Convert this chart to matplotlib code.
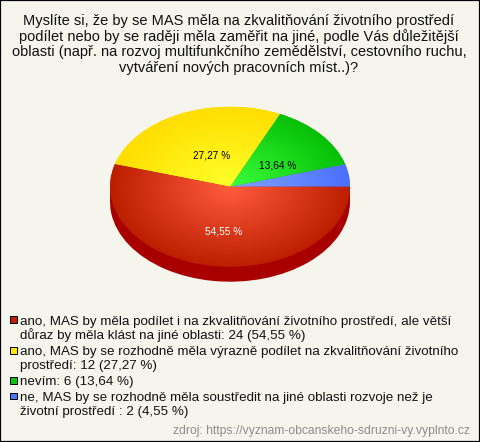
import matplotlib
matplotlib.use('Agg')
import matplotlib.pyplot as plt
import numpy as np
from matplotlib.colors import LinearSegmentedColormap
from matplotlib.patches import Rectangle

W, H = 480, 442

title_lines = [
    'Myslíte si, že by se MAS měla na zkvalitňování životního prostředí',
    'podílet nebo by se raději měla zaměřit na jiné, podle Vás důležitější',
    'oblasti (např. na rozvoj multifunkčního zemědělství, cestovního ruchu,',
    'vytváření nových pracovních míst..)?',
]
counts = [2, 6, 12, 24]
pct_labels = ['4,55 %', '13,64 %', '27,27 %', '54,55 %']
legend_lines = [
    ['ano, MAS by měla podílet i na zkvalitňování životního prostředí, ale větší',
     'důraz by měla klást na jiné oblasti: 24 (54,55 %)'],
    ['ano, MAS by se rozhodně měla výrazně podílet na zkvalitňování životního',
     'prostředí: 12 (27,27 %)'],
    ['nevím: 6 (13,64 %)'],
    ['ne, MAS by se rozhodně měla soustředit na jiné oblasti rozvoje než je',
     'životní prostředí : 2 (4,55 %)'],
]
legend_colors = ['#C42000', '#FFE800', '#0CC40C', '#4D74FF']
source = 'zdroj: https://vyznam-obcanskeho-sdruzni-vy.vyplnto.cz'

# (stred, okraj) pro kazdy dil, poradi jako counts
gradients = [('#82A5FF', '#4A70FF'), ('#3CFF3C', '#06C006'),
             ('#FFFF2A', '#FFDE00'), ('#FF5C3C', '#BC1E00')]
side_color = '#A80000'
bg = '#F5F5EE'

plt.rcParams['font.family'] = ['Liberation Sans', 'DejaVu Sans']

fig = plt.figure(figsize=(W / 100, H / 100), dpi=100, facecolor=bg)


def px_text(x, y, s, **kw):
    fig.text(x / W, 1 - y / H, s, va='baseline', **kw)


# ramecek
fig.add_artist(Rectangle((0, 0), 1, 1, transform=fig.transFigure, fill=False,
                         edgecolor='black', linewidth=1.6))

# kolac: stred (230, 186.7), poloosy 120 a 80, hloubka 15 px
cx, cy, rx, ry, depth = 230, 186.7, 120, 80, 15
ax = fig.add_axes([(cx - rx) / W, 1 - (cy + ry + depth) / H,
                   2 * rx / W, (2 * ry + depth) / H])
d = depth / ry

ax.pie(counts, colors=[side_color] * 4, center=(0, -d), radius=1,
       startangle=0, counterclock=True)
ax.add_patch(Rectangle((-1, -d), 2, d, color=side_color, lw=0))
wedges, _ = ax.pie(counts, colors=[g[1] for g in gradients], radius=1,
                   startangle=0, counterclock=True)

gx, gy = np.meshgrid(np.linspace(-1, 1, 400), np.linspace(-1, 1, 400))
rr = np.clip(np.hypot(gx, gy), 0, 1)
for wedge, (c0, c1) in zip(wedges, gradients):
    cmap = LinearSegmentedColormap.from_list('g', [c0, c1])
    im = ax.imshow(rr, cmap=cmap, extent=(-1, 1, -1, 1), origin='lower',
                   vmin=0, vmax=1, aspect='auto', zorder=3)
    im.set_clip_path(wedge)
ax.set_aspect('auto')
ax.set_xlim(-1, 1)
ax.set_ylim(-1 - d, 1)

# popisky v kolaci
px_text(223.5, 234, pct_labels[3], ha='center', color='white', fontsize=7.3)
px_text(212, 158, pct_labels[2], ha='center', color='black', fontsize=7.3)
px_text(278, 169, pct_labels[1], ha='center', color='black', fontsize=7.3)

# nadpis
for i, line in enumerate(title_lines):
    px_text(239, 25 + i * 15.6, line, ha='center', color='#111111', fontsize=10.55)

# legenda
box_y = [319.6, 350.3, 380.3, 396]
line_y = [[325, 339], [355, 369], [385], [401, 415]]
for color, lines, by, ys in zip(legend_colors, legend_lines, box_y, line_y):
    fig.add_artist(Rectangle((10 / W, 1 - (by + 3.4) / H), 6.6 / W, 6.8 / H,
                             transform=fig.transFigure, facecolor=color,
                             edgecolor='black', linewidth=0.7))
    for line, ly in zip(lines, ys):
        px_text(20, ly, line, ha='left', color='#111111', fontsize=9.65)

px_text(470, 434, source, ha='right', color='#8C8C8C', fontsize=8.7)

fig.savefig('out.png', dpi=100, facecolor=bg)
